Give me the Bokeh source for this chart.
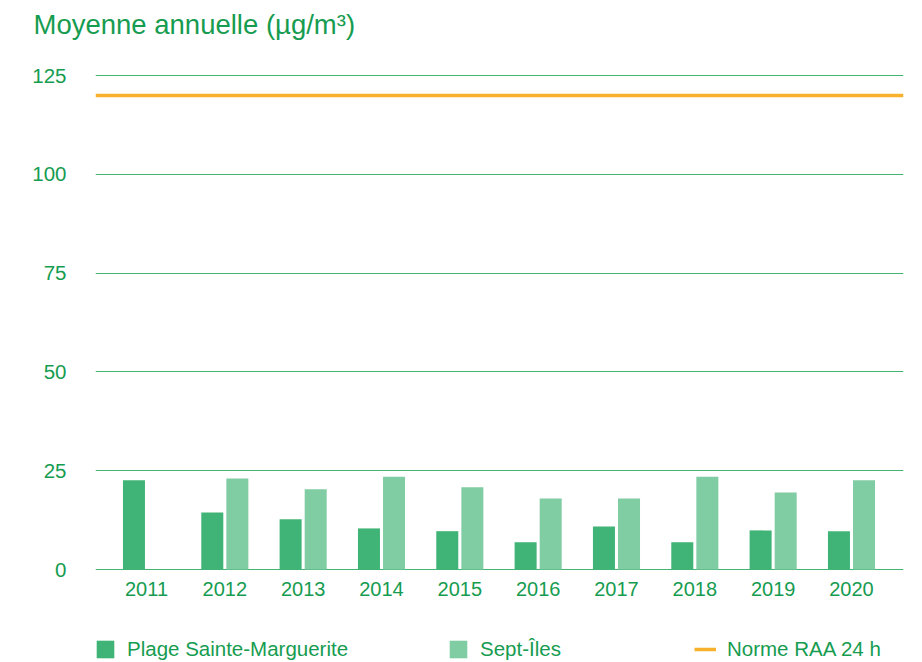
from bokeh.plotting import figure
from bokeh.models import (ColumnDataSource, Range1d, FixedTicker, Legend, LegendItem, Title)
from bokeh.core.properties import value
from bokeh.embed import file_html
from bokeh.resources import INLINE
from bokeh.transform import dodge

years = [2011, 2012, 2013, 2014, 2015, 2016, 2017, 2018, 2019, 2020]
year_labels = [str(y) for y in years]
plage_sainte_marguerite = [22.6, 14.4, 12.7, 10.4, 9.7, 6.9, 10.9, 6.9, 9.9, 9.7]
sept_iles = [None, 23.0, 20.3, 23.5, 20.8, 18.0, 18.0, 23.5, 19.5, 22.6]
norme_raa_24h = [120]
y_ticks = [0, 25, 50, 75, 100, 125]

series_names = ["Plage Sainte-Marguerite", "Sept-Îles", "Norme RAA 24 h"]
title_text = "Moyenne annuelle (µg/m³)"

GREEN_TEXT = "#169c50"
GRID = "#44b474"
C_PSM = "#40b476"
C_SI = "#80cca3"
C_NORM = "#f7b12c"
FONT = "Liberation Sans"

src = ColumnDataSource(dict(
    year=years,
    label=year_labels,
    base=[0] * len(years),
    psm=plage_sainte_marguerite,
    si=[float("nan") if v is None else v for v in sept_iles],
))

# frame spans down to the bottom of the figure so the year labels and the
# legend (drawn below the zero line) are not clipped
p = figure(width=914, height=662, output_backend="svg", toolbar_location=None,
           x_range=Range1d(2011 - 0.651, 2020 + 0.664), y_range=Range1d(-23.53, 128.8),
           min_border_left=95, min_border_right=11, min_border_top=60, min_border_bottom=0)

# spacer between title and plot area (closest to the frame), then the title
p.add_layout(Title(text=" ", text_font_size="10px", standoff=6), "above")
p.add_layout(Title(text=title_text, text_font=FONT, text_font_size="27.5px",
                   text_font_style="normal", text_color=GREEN_TEXT, align="left",
                   offset=-62, standoff=4), "above")

p.outline_line_color = None
p.background_fill_color = "white"
p.border_fill_color = "white"

bw = 0.281
r_psm = p.vbar(x=dodge("year", -0.16, range=p.x_range), top="psm", width=bw, source=src,
               fill_color=C_PSM, line_color=None)
r_si = p.vbar(x=dodge("year", 0.16, range=p.x_range), top="si", width=bw, source=src,
              fill_color=C_SI, line_color=None)
r_norm = p.hspan(y=norme_raa_24h, line_color=C_NORM, line_width=3.5)

# year labels under the zero line
p.text(x="year", y="base", text="label", source=src, text_align="center",
       text_baseline="top", y_offset=12, text_font=value(FONT),
       text_font_size="20px", text_color=GREEN_TEXT)

p.xaxis.visible = False
p.xgrid.visible = False
p.ygrid.ticker = FixedTicker(ticks=y_ticks)
p.ygrid.grid_line_color = GRID
p.ygrid.grid_line_width = 1
p.ygrid.level = "underlay"

p.yaxis.ticker = FixedTicker(ticks=y_ticks)
ax = p.yaxis[0]
ax.axis_line_color = None
ax.major_tick_line_color = None
ax.minor_tick_line_color = None
ax.major_label_text_font = FONT
ax.major_label_text_font_size = "20.5px"
ax.major_label_text_color = GREEN_TEXT
ax.major_label_standoff = 23

legend_x = [-1, 352, 599]
for name, r, lx in zip(series_names, [r_psm, r_si, r_norm], legend_x):
    lg = Legend(items=[LegendItem(label=name, renderers=[r])], location=(lx, 1),
                orientation="horizontal", glyph_width=22, glyph_height=22,
                label_standoff=11, padding=0, margin=0, spacing=0,
                border_line_color=None, background_fill_alpha=0,
                label_text_font=FONT, label_text_font_size="20.5px",
                label_text_color=GREEN_TEXT)
    p.add_layout(lg, "center")

open("out.html", "w").write(file_html(p, INLINE))
